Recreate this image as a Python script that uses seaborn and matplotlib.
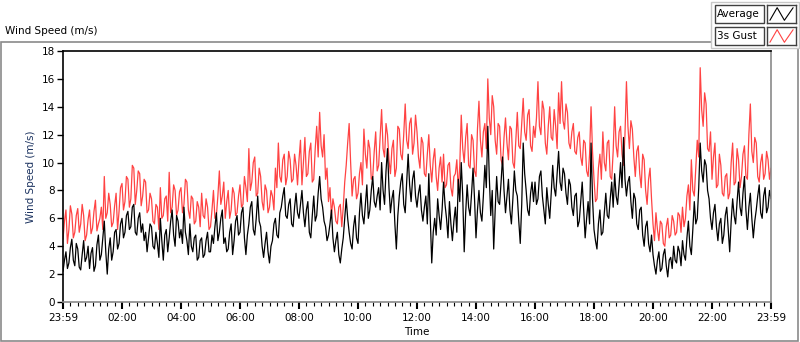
import numpy as np
import pandas as pd
import matplotlib
matplotlib.use("Agg")
import matplotlib.pyplot as plt
from matplotlib.patches import Rectangle
from matplotlib.ticker import MultipleLocator
import seaborn as sns

# minutes since 23:59, one reading every 3 minutes
minutes = list(range(0, 1441, 3))

gust = [
    # 23:59 - 04:00
    4.5, 5.8, 6.6, 4.2, 5.2, 6.9, 6.3, 4.6, 5.0, 6.2, 6.7, 5.0, 5.6, 7.0, 6.2, 4.4, 4.8, 5.9, 6.6, 4.9,
    5.3, 6.5, 7.3, 5.1, 5.6, 6.0, 6.8, 5.2, 9.0, 6.0, 6.4, 7.8, 7.0, 5.4, 5.7, 6.9, 7.8, 5.2, 6.5, 8.2,
    8.5, 6.6, 7.2, 9.0, 8.8, 6.8, 7.4, 9.8, 9.6, 7.0, 8.0, 9.4, 9.2, 6.9, 7.6, 8.8, 8.6, 6.4, 6.6, 7.8,
    7.4, 5.8, 5.6, 7.0, 6.8, 5.2, 8.2, 6.0, 6.2, 7.4, 7.6, 5.8, 9.3, 6.4, 6.8, 8.4, 8.0, 6.2, 6.6, 7.9,
    # 04:00 - 08:00
    8.2, 6.4, 7.0, 8.8, 8.6, 6.6, 6.0, 7.6, 7.4, 5.6, 5.8, 7.2, 6.8, 5.4, 7.8, 6.2, 6.0, 7.4, 6.8, 5.2,
    5.4, 6.6, 8.0, 6.0, 6.2, 7.6, 9.4, 7.0, 7.6, 8.6, 6.0, 7.2, 8.0, 6.0, 6.6, 8.2, 7.8, 6.2, 6.4, 7.6,
    8.4, 6.8, 7.0, 9.0, 8.2, 7.2, 11.0, 8.0, 8.6, 10.0, 10.4, 7.6, 7.8, 9.6, 9.0, 7.2, 6.6, 8.4, 8.0, 6.4,
    6.8, 8.0, 7.6, 6.6, 9.6, 8.2, 11.4, 9.0, 8.6, 10.2, 10.6, 8.4, 9.0, 10.8, 10.2, 8.6, 8.8, 10.6, 9.8, 8.4,
    # 08:00 - 12:00
    10.2, 11.6, 8.4, 10.0, 11.8, 9.0, 9.2, 10.8, 11.4, 8.6, 8.8, 11.0, 12.6, 10.4, 13.6, 11.2, 10.4, 12.0, 8.8, 9.6,
    7.2, 8.2, 6.2, 7.4, 6.8, 5.8, 5.6, 6.8, 7.0, 5.4, 6.8, 8.6, 9.8, 11.4, 12.8, 10.0, 7.6, 8.8, 9.0, 7.4,
    7.8, 9.2, 10.0, 8.4, 12.4, 10.6, 9.6, 11.6, 11.0, 8.8, 9.0, 10.8, 12.2, 9.4, 9.8, 11.8, 13.8, 11.0, 10.4, 12.8,
    12.0, 10.2, 9.2, 11.0, 11.6, 9.0, 9.6, 12.6, 12.4, 10.6, 10.2, 12.0, 14.2, 11.6, 11.0, 12.8, 13.2, 10.6, 11.4, 13.4,
    # 12:00 - 16:00
    12.2, 10.4, 9.6, 11.8, 11.4, 9.2, 9.0, 10.6, 12.0, 9.8, 8.6, 10.2, 11.0, 9.0, 8.0, 9.6, 10.4, 8.6, 10.6, 8.2,
    8.4, 9.8, 10.0, 8.2, 7.6, 9.0, 9.2, 10.2, 8.0, 9.8, 13.4, 11.0, 10.0, 11.8, 12.8, 9.8, 9.6, 12.0, 11.6, 9.4,
    9.0, 12.4, 14.4, 11.6, 10.4, 12.2, 12.8, 11.0, 16.0, 13.2, 12.0, 14.8, 14.0, 11.6, 10.6, 12.8, 12.6, 10.2, 9.8, 11.8,
    13.2, 11.4, 10.2, 12.6, 12.4, 10.0, 9.6, 11.6, 13.6, 11.2, 11.0, 12.8, 14.6, 12.2, 11.6, 13.4, 13.8, 11.2, 10.8, 12.6,
    # 16:00 - 20:00
    11.8, 13.2, 15.8, 12.6, 12.0, 14.4, 13.8, 11.4, 10.6, 12.6, 14.0, 11.8, 11.6, 13.8, 12.6, 11.0, 15.0, 12.8, 15.8, 13.0,
    12.4, 14.2, 13.6, 11.4, 11.0, 12.2, 12.8, 10.8, 10.6, 11.8, 12.2, 10.4, 9.8, 11.6, 11.4, 9.4, 9.0, 10.6, 14.0, 10.8,
    8.8, 7.2, 7.4, 9.6, 10.6, 8.8, 12.2, 10.0, 9.4, 11.4, 11.6, 9.0, 8.8, 10.8, 14.0, 11.2, 10.4, 12.2, 12.6, 10.6,
    9.8, 12.0, 15.8, 12.6, 11.0, 13.0, 12.4, 10.4, 9.0, 10.8, 11.2, 9.2, 8.2, 10.6, 10.2, 8.0, 7.0, 8.8, 9.6, 7.4,
    # 20:00 - 23:59
    5.6, 4.4, 6.4, 5.2, 4.4, 5.8, 5.6, 4.2, 4.0, 5.4, 6.0, 4.6, 4.8, 6.2, 5.8, 4.8, 5.0, 6.4, 6.2, 5.0,
    6.8, 5.4, 6.0, 7.6, 8.4, 6.6, 10.2, 8.0, 7.6, 9.6, 11.6, 10.4, 16.8, 13.8, 12.6, 15.0, 14.2, 11.0, 10.8, 12.2,
    8.8, 10.4, 11.4, 8.2, 8.4, 10.6, 9.8, 7.8, 7.6, 9.0, 9.2, 7.4, 7.8, 10.0, 11.4, 8.4, 8.6, 11.0, 10.2, 8.2,
    9.0, 10.6, 11.2, 9.0, 8.8, 12.0, 14.2, 10.8, 10.0, 11.8, 11.4, 9.0, 8.6, 10.0, 10.6, 8.8, 9.2, 10.8, 10.2, 8.8,
    9.6,
]

average = [
    # 23:59 - 04:00
    2.2, 3.0, 3.6, 2.4, 2.8, 3.9, 4.5, 3.0, 2.6, 4.2, 3.8, 2.5, 2.3, 3.4, 4.4, 2.9, 3.2, 4.0, 2.4, 3.5,
    3.9, 2.2, 2.6, 4.1, 4.8, 3.0, 3.4, 4.6, 5.8, 3.6, 2.0, 3.8, 4.6, 3.0, 3.6, 5.0, 5.2, 3.8, 4.2, 5.6,
    6.0, 4.6, 5.0, 6.2, 6.5, 5.2, 5.4, 6.8, 7.0, 5.0, 4.8, 6.0, 6.4, 5.0, 5.6, 4.4, 5.0, 3.6, 4.6, 5.6,
    5.4, 4.0, 3.8, 5.0, 4.2, 3.2, 6.0, 4.4, 3.0, 4.8, 5.2, 3.6, 4.6, 5.8, 6.6, 4.8, 4.0, 6.2, 5.8, 4.6,
    # 04:00 - 08:00
    5.2, 4.2, 6.8, 5.0, 4.4, 3.4, 5.6, 4.0, 3.6, 4.6, 4.8, 3.0, 3.2, 4.4, 4.6, 3.2, 3.4, 4.4, 5.0, 3.6,
    3.6, 4.8, 4.2, 5.4, 6.4, 4.4, 5.0, 6.0, 6.6, 4.2, 4.6, 3.6, 3.8, 5.0, 5.6, 3.4, 4.4, 5.8, 6.2, 4.8,
    5.0, 6.4, 6.8, 4.6, 3.4, 4.8, 5.6, 6.8, 7.2, 5.2, 4.8, 6.0, 7.6, 5.8, 5.4, 4.0, 3.2, 4.2, 5.0, 3.6,
    2.8, 4.0, 4.4, 5.6, 6.0, 4.8, 4.6, 6.4, 6.8, 7.6, 8.2, 6.2, 6.0, 7.0, 7.4, 5.6, 5.4, 6.8, 7.8, 6.4,
    # 08:00 - 12:00
    6.0, 7.0, 8.0, 6.4, 5.4, 6.6, 7.2, 5.0, 4.6, 6.2, 7.6, 5.8, 6.2, 7.8, 9.0, 7.4, 6.8, 5.8, 5.4, 4.4,
    4.8, 5.6, 6.6, 4.6, 3.6, 4.4, 5.0, 3.4, 2.8, 3.8, 4.6, 6.0, 7.4, 6.0, 5.0, 4.2, 3.8, 5.4, 6.2, 4.6,
    4.2, 6.4, 7.8, 6.2, 5.6, 7.0, 8.4, 6.0, 6.6, 8.0, 9.0, 7.2, 6.8, 7.6, 8.2, 6.6, 10.0, 8.0, 7.0, 9.4,
    11.0, 8.2, 6.4, 7.4, 8.0, 5.6, 3.8, 6.2, 7.6, 8.6, 9.2, 7.0, 6.4, 8.6, 10.6, 8.4, 7.2, 8.8, 9.4, 7.6,
    # 12:00 - 16:00
    6.8, 7.8, 8.4, 6.6, 5.8, 6.8, 7.6, 5.6, 9.2, 6.0, 2.8, 5.0, 6.0, 4.8, 7.4, 6.2, 5.2, 6.6, 8.6, 7.0,
    6.0, 4.6, 7.2, 5.6, 4.4, 5.8, 6.8, 5.0, 8.8, 7.2, 10.0, 7.6, 3.6, 6.4, 8.4, 6.8, 6.2, 7.8, 9.6, 7.4,
    4.6, 6.6, 8.0, 6.4, 5.8, 7.6, 9.8, 8.2, 12.6, 9.0, 6.2, 8.0, 3.8, 6.6, 9.0, 7.2, 7.0, 8.6, 10.4, 8.0,
    6.4, 7.6, 8.8, 6.6, 5.6, 7.4, 9.4, 8.0, 7.6, 5.8, 4.2, 7.0, 11.4, 9.2, 8.0, 6.6, 6.2, 7.8, 8.6, 7.2,
    # 16:00 - 20:00
    8.6, 7.0, 7.4, 9.0, 9.4, 7.6, 6.6, 5.6, 8.2, 7.0, 6.0, 7.8, 9.8, 8.2, 7.6, 9.2, 10.8, 8.6, 8.0, 9.6,
    9.2, 7.8, 7.0, 8.8, 8.4, 6.8, 6.2, 7.6, 7.8, 5.4, 5.8, 7.2, 8.6, 6.6, 4.6, 6.0, 7.2, 5.6, 11.4, 7.4,
    5.2, 4.4, 3.8, 5.6, 6.6, 4.8, 5.0, 6.4, 7.8, 6.2, 6.0, 7.4, 8.6, 6.8, 9.2, 7.6, 7.0, 8.4, 10.0, 8.2,
    11.8, 8.8, 7.6, 8.6, 9.0, 7.2, 6.0, 7.8, 7.4, 5.6, 5.2, 6.6, 6.8, 4.8, 4.0, 5.4, 5.8, 4.2, 3.6, 4.8,
    # 20:00 - 23:59
    3.4, 2.6, 2.0, 3.0, 3.6, 2.2, 2.4, 3.4, 3.8, 2.6, 1.8, 3.0, 3.2, 2.4, 4.0, 3.0, 2.8, 4.0, 3.6, 2.6,
    4.4, 3.4, 3.0, 4.6, 5.8, 4.0, 3.4, 5.2, 7.2, 5.6, 6.0, 8.2, 11.4, 9.4, 8.6, 10.2, 9.8, 8.0, 7.4, 6.0,
    5.2, 6.4, 7.0, 5.4, 4.4, 5.6, 6.0, 4.2, 4.8, 6.2, 6.8, 5.2, 3.6, 5.8, 7.4, 6.2, 5.6, 7.2, 8.6, 6.8,
    6.2, 7.8, 9.0, 6.6, 5.2, 6.8, 7.8, 6.0, 4.6, 5.8, 6.6, 7.6, 8.4, 6.4, 6.0, 7.6, 8.2, 6.4, 6.8, 8.0,
    7.4,
]

tick_minutes = list(range(0, 1441, 120))
tick_labels = ["23:59", "02:00", "04:00", "06:00", "08:00", "10:00", "12:00",
               "14:00", "16:00", "18:00", "20:00", "22:00", "23:59"]

df = pd.DataFrame({"Time": minutes, "Average": average, "3s Gust": gust})

sns.set_style("white")
plt.rcParams["font.family"] = ["DejaVu Sans"]
plt.rcParams["font.size"] = 7.5
plt.rcParams["text.color"] = "black"
plt.rcParams["xtick.color"] = "black"
plt.rcParams["ytick.color"] = "black"
plt.rcParams["axes.labelcolor"] = "black"

W, H = 800, 342
fig = plt.figure(figsize=(W / 100, H / 100), dpi=100)

def fx(px):
    return px / W

def fy(py):
    return 1 - py / H

ax = fig.add_axes([fx(63), fy(302), fx(771) - fx(63), fy(51) - fy(302)])

red = "#ff4343"
sns.lineplot(data=df, x="Time", y="3s Gust", color=red, lw=0.9, ax=ax, estimator=None)
sns.lineplot(data=df, x="Time", y="Average", color="black", lw=0.9, ax=ax, estimator=None)

ax.set_xlim(0, 1440)
ax.set_ylim(0, 18)
ax.set_yticks(range(0, 19, 2))
ax.set_xticks(tick_minutes)
ax.set_xticklabels(tick_labels)
ax.xaxis.set_minor_locator(MultipleLocator(15))
ax.tick_params(axis="x", which="major", bottom=True, length=5, width=1.5,
               color="black", labelcolor="black", direction="out", pad=3, labelsize=7.5)
ax.tick_params(axis="x", which="minor", bottom=True, length=3, width=0.8,
               color="black", direction="out")
ax.tick_params(axis="y", which="major", left=True, length=4, width=1,
               color="black", labelcolor="black", direction="out", pad=2, labelsize=7.5)
ax.set_xlabel("Time", fontsize=7.5, labelpad=3, color="black")
ax.set_ylabel("Wind Speed (m/s)", fontsize=7.5, color="#1c3360", labelpad=4)

for side in ["left", "top"]:
    ax.spines[side].set_color("black")
    ax.spines[side].set_linewidth(1.2)
for side in ["right", "bottom"]:
    ax.spines[side].set_color("#8a8a8a")
    ax.spines[side].set_linewidth(1.2)

# outer panel frame
fig.patches.append(Rectangle((fx(0.5), fy(341)), fx(798) - fx(0.5), fy(42) - fy(341),
                             transform=fig.transFigure, fill=False,
                             edgecolor="#8a8a8a", lw=1.2, zorder=-2))
fig.text(fx(5), fy(31), "Wind Speed (m/s)", fontsize=7.5, va="center", ha="left", color="black")

# LabVIEW style plot legend
fig.patches.append(Rectangle((fx(711), fy(48)), fx(799) - fx(711), fy(2) - fy(48),
                             transform=fig.transFigure, facecolor="white",
                             edgecolor="#c8c8c8", lw=1, zorder=-1))
for row, (name, col) in enumerate([("Average", "black"), ("3s Gust", red)]):
    top = 5 + row * 22
    fig.patches.append(Rectangle((fx(715), fy(top + 18)), fx(764) - fx(715), fy(top) - fy(top + 18),
                                 transform=fig.transFigure, facecolor="white",
                                 edgecolor="#404040", lw=1, zorder=-1))
    fig.text(fx(717), fy(top + 9), name, fontsize=7.5, va="center", ha="left", color="black")
    icon = fig.add_axes([fx(767), fy(top + 18), fx(796) - fx(767), fy(top) - fy(top + 18)])
    icon.set_zorder(5)
    icon.plot([0.1, 0.35, 0.6, 0.9], [0.15, 0.85, 0.15, 0.85], color=col, lw=0.8)
    icon.set_xlim(0, 1)
    icon.set_ylim(0, 1)
    icon.set_xticks([])
    icon.set_yticks([])
    for s in icon.spines.values():
        s.set_color("#404040")
        s.set_linewidth(1)

fig.savefig("out.png", dpi=100)
